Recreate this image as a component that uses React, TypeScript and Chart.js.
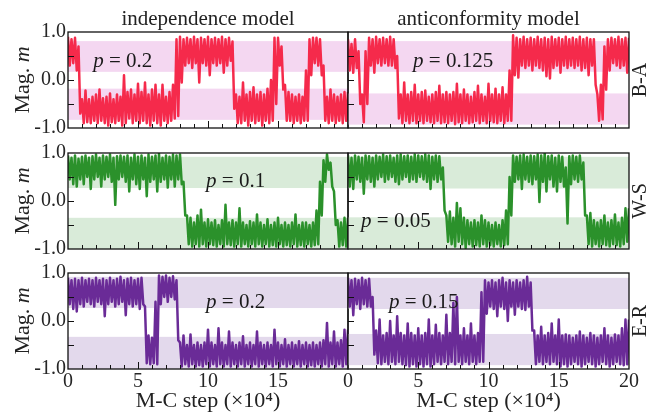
import { useEffect, useRef } from 'react';
import { Chart, registerables } from 'chart.js';

Chart.register(...registerables);

const W = 664;
const H = 418;
const SERIF = '"Liberation Serif", "DejaVu Serif", serif';
const STEP = 0.25;

// ---- time series envelopes (per 0.25 x 10^4 M-C steps: upper / lower value) ----
const baIndHi = [
  0.9, 0.85, 0.88, 0.7, -0.4, -0.22, -0.4, -0.35, -0.3, -0.2,
  -0.38, -0.35, -0.28, -0.4, -0.3, -0.35, 0.1, -0.25, -0.2, -0.3,
  -0.08, -0.25, -0.05, -0.3, -0.2, -0.1, -0.3, -0.1, -0.35, -0.25,
  -0.1, 0.85, 0.9, 0.85, 0.88, 0.85, 0.9, 0.85, 0.88, 0.85,
  0.9, 0.85, 0.88, 0.85, 0.9, 0.85, 0.88, 0.8, -0.3, -0.35,
  -0.05, -0.3, -0.25, -0.15, -0.3, -0.25, -0.3, -0.18, 0.0, 0.88,
  0.88, 0.7, -0.1, -0.25, -0.3, -0.35, -0.3, -0.35, 0.2, 0.85,
  0.88, 0.88, 0.85, 0.3, -0.35, -0.2, -0.3, -0.35, -0.3, -0.25,
];
const baIndLo = [
  0.3, 0.35, 0.2, -0.7, -0.9, -0.88, -0.9, -0.85, -0.9, -0.85,
  -0.9, -0.95, -0.88, -0.9, -0.85, -0.95, -0.9, -0.8, -0.9, -0.85,
  -0.9, -0.85, -0.9, -0.95, -0.85, -0.9, -0.95, -0.85, -0.9, -0.85,
  -0.8, -0.75, -0.05, 0.3, 0.35, 0.25, 0.35, -0.05, 0.35, 0.3,
  0.1, 0.35, 0.3, 0.35, 0.15, 0.3, 0.4, -0.6, -0.9, -0.9,
  -0.85, -0.95, -0.85, -0.9, -0.85, -0.95, -0.85, -0.9, -0.85, -0.5,
  0.3, -0.2, -0.85, -0.85, -0.9, -0.85, -0.9, -0.85, -0.85, 0.1,
  0.35, 0.3, 0.1, -0.85, -0.9, -0.85, -0.9, -0.85, -0.9, -0.85,
];
const baAntiHi = [
  0.85, 0.75, 0.85, 0.6, -0.3, 0.6, 0.88, 0.85, 0.9, 0.85,
  0.88, 0.85, 0.9, 0.85, 0.5, -0.3, -0.05, -0.3, -0.25, -0.1,
  -0.3, -0.25, -0.22, -0.35, -0.3, -0.25, -0.12, -0.3, -0.25, -0.3,
  -0.25, -0.08, -0.3, -0.2, -0.3, -0.35, -0.25, -0.12, -0.3, -0.35,
  -0.08, -0.3, -0.18, -0.3, -0.15, -0.3, 0.2, 0.93, 0.88, 0.85,
  0.9, 0.85, 0.88, 0.85, 0.9, 0.85, 0.88, 0.85, 0.9, 0.85,
  0.88, 0.85, 0.9, 0.85, 0.88, 0.85, 0.9, 0.85, 0.88, 0.85,
  0.85, -0.3, -0.1, 0.7, 0.85, 0.88, 0.85, 0.9, 0.85, 0.88,
];
const baAntiLo = [
  0.2, 0.15, 0.25, -0.5, -0.88, -0.5, 0.3, 0.15, 0.35, 0.3,
  0.35, 0.3, 0.3, 0.25, -0.8, -0.9, -0.85, -0.9, -0.85, -0.9,
  -0.85, -0.9, -0.85, -0.88, -0.9, -0.85, -0.9, -0.88, -0.9, -0.85,
  -0.92, -0.88, -0.9, -0.85, -0.9, -0.88, -0.85, -0.9, -0.85, -0.9,
  -0.85, -0.88, -0.9, -0.85, -0.9, -0.85, -0.85, 0.1, 0.05, 0.3,
  0.25, 0.3, 0.2, 0.3, 0.25, 0.2, 0.08, 0.03, 0.25, 0.3,
  0.15, 0.3, 0.25, 0.3, 0.25, 0.3, 0.2, 0.25, 0.1, 0.3,
  -0.1, -0.85, -0.82, -0.2, 0.2, 0.35, 0.3, 0.25, 0.3, 0.15,
];
const wsIndHi = [
  0.95, 0.9, 0.95, 0.88, 0.92, 0.95, 0.9, 0.93, 0.97, 0.9,
  0.95, 0.92, 0.97, 0.9, 0.93, 0.95, 0.92, 0.95, 0.9, 0.97,
  0.92, 0.95, 0.9, 0.97, 0.92, 0.95, 0.98, 0.9, 0.95, 0.92,
  0.97, 0.95, 0.97, 0.4, -0.3, -0.35, -0.45, -0.3, -0.18, -0.45,
  -0.38, -0.45, -0.4, -0.5, -0.4, -0.08, -0.45, -0.4, -0.45, -0.15,
  -0.45, -0.5, -0.42, -0.45, -0.28, -0.45, -0.5, -0.38, -0.5, -0.45,
  -0.35, -0.5, -0.45, -0.5, -0.45, -0.28, -0.5, -0.45, -0.45, -0.5,
  -0.45, -0.2, 0.4, 0.85, 0.97, 0.8, 0.2, -0.4, -0.45, -0.35,
];
const wsIndLo = [
  0.45, 0.35, 0.3, 0.45, 0.35, 0.5, 0.25, 0.45, 0.5, 0.3,
  0.45, 0.5, 0.4, -0.08, 0.45, 0.5, 0.4, 0.2, 0.45, 0.35,
  0.25, 0.45, 0.1, 0.4, 0.45, 0.2, 0.4, 0.45, 0.28, 0.45,
  0.3, 0.45, 0.35, -0.3, -0.9, -0.95, -0.9, -0.95, -0.9, -0.95,
  -0.9, -0.92, -0.95, -0.9, -0.95, -0.9, -0.92, -0.95, -0.9, -0.95,
  -0.9, -0.95, -0.9, -0.95, -0.9, -0.95, -0.9, -0.95, -0.92, -0.95,
  -0.9, -0.95, -0.92, -0.95, -0.9, -0.95, -0.92, -0.95, -0.9, -0.95,
  -0.92, -0.9, -0.3, 0.4, 0.65, 0.3, -0.5, -0.95, -0.92, -0.95,
];
const wsAntiHi = [
  0.95, 0.9, 0.95, 0.92, 0.9, 0.95, 0.93, 0.9, 0.95, 0.92,
  0.97, 0.93, 0.95, 0.9, 0.95, 0.97, 0.93, 0.95, 0.92, 0.97,
  0.95, 0.93, 0.97, 0.95, 0.92, 0.95, 0.93, 0.7, -0.3, -0.22,
  -0.35, -0.04, -0.15, -0.35, -0.4, -0.45, -0.4, -0.45, -0.3, -0.4,
  -0.45, -0.5, -0.45, -0.5, -0.4, -0.2, 0.5, 0.95, 0.92, 0.95,
  0.97, 0.92, 0.95, 0.93, 0.97, 0.95, 1.0, 0.93, 0.95, 0.9,
  0.95, 0.92, 0.7, 0.93, 0.95, 0.92, 0.95, 0.8, -0.3, -0.25,
  -0.4, -0.45, -0.4, -0.3, -0.45, -0.4, -0.28, -0.45, -0.35, -0.15,
];
const wsAntiLo = [
  0.3, 0.25, 0.45, 0.4, 0.15, 0.45, 0.4, 0.3, 0.45, 0.5,
  0.4, 0.45, 0.5, 0.4, 0.35, 0.45, 0.5, 0.4, 0.45, 0.4,
  0.5, 0.45, 0.4, 0.25, 0.45, 0.4, 0.45, -0.2, -0.85, -0.9,
  -0.95, -0.85, -0.9, -0.98, -0.9, -0.95, -0.92, -0.95, -0.9, -0.95,
  -0.92, -0.95, -0.9, -0.95, -0.92, -0.9, -0.3, 0.4, 0.45, 0.25,
  0.45, 0.4, 0.35, 0.45, -0.02, 0.4, 0.2, 0.45, 0.3, 0.2,
  0.4, 0.3, -0.47, 0.35, 0.45, 0.4, 0.45, -0.3, -0.9, -0.95,
  -0.9, -0.95, -0.9, -0.92, -0.95, -0.9, -0.92, -0.95, -0.9, -0.85,
];
const erIndHi = [
  0.9, 0.85, 0.88, 0.85, 0.9, 0.85, 0.88, 0.85, 0.9, 0.85,
  0.88, 0.85, 0.9, 0.85, 0.88, 0.92, 0.85, 0.88, 0.9, 0.85,
  0.88, 0.9, 0.3, -0.3, -0.35, 0.4, 0.95, 0.92, 0.95, 0.9,
  0.93, 0.85, -0.45, -0.3, -0.5, -0.28, -0.5, -0.45, -0.5, -0.45,
  -0.18, -0.45, -0.5, -0.15, -0.45, -0.5, -0.22, -0.45, -0.5, -0.45,
  -0.32, -0.5, -0.45, -0.5, -0.22, -0.45, -0.5, -0.45, -0.5, -0.18,
  -0.45, -0.5, -0.38, -0.5, -0.45, -0.5, -0.42, -0.5, -0.45, -0.5,
  -0.45, -0.5, -0.45, -0.4, -0.04, -0.45, -0.22, -0.45, -0.4, -0.18,
];
const erIndLo = [
  0.35, 0.25, 0.2, 0.35, 0.3, 0.4, 0.35, 0.3, 0.4, 0.35,
  0.1, 0.35, 0.4, 0.3, 0.35, 0.4, 0.12, 0.35, 0.3, 0.35,
  0.25, 0.35, -0.88, -0.9, -0.88, -0.9, 0.35, 0.5, 0.4, 0.5,
  0.45, -0.4, -0.95, -0.9, -0.95, -0.9, -0.95, -0.92, -0.95, -0.9,
  -0.95, -0.9, -0.95, -0.9, -0.95, -0.9, -0.95, -0.9, -0.95, -0.9,
  -0.95, -0.9, -0.95, -0.9, -0.95, -0.9, -0.95, -0.9, -0.95, -0.9,
  -0.95, -0.9, -0.95, -0.9, -0.95, -0.9, -0.95, -0.9, -0.95, -0.92,
  -0.95, -0.9, -0.95, -0.9, -0.95, -0.9, -0.95, -0.9, -0.95, -0.9,
];
const erAntiHi = [
  0.9, 0.85, 0.88, 0.85, 0.9, 0.85, 0.88, 0.5, -0.2, 0.03,
  -0.3, -0.25, 0.0, -0.3, 0.1, -0.25, -0.3, -0.05, -0.25, -0.3,
  -0.15, -0.3, -0.25, 0.03, -0.3, -0.08, -0.25, -0.3, 0.13, -0.25,
  0.38, 0.5, -0.3, -0.15, -0.3, -0.05, -0.3, -0.25, 0.6, 0.85,
  0.8, 0.85, 0.8, 0.85, 0.9, 0.8, 0.85, 0.8, 0.85, 0.8,
  0.85, 0.92, 0.8, -0.2, -0.3, -0.12, -0.3, -0.25, -0.05, -0.3,
  0.03, -0.3, -0.28, -0.3, -0.35, -0.3, -0.22, -0.3, -0.35, -0.25,
  -0.3, -0.35, -0.3, -0.15, -0.3, -0.35, -0.28, -0.3, -0.15, 0.03,
];
const erAntiLo = [
  0.3, 0.12, 0.35, 0.25, 0.35, 0.3, 0.3, -0.7, -0.88, -0.9,
  -0.85, -0.9, -0.85, -0.9, -0.85, -0.9, -0.92, -0.95, -0.9, -0.95,
  -0.9, -0.95, -0.9, -0.95, -0.9, -0.85, -0.9, -0.85, -0.9, -0.85,
  -0.9, -0.85, -0.9, -0.85, -0.9, -0.85, -0.9, -0.85, -0.85, 0.15,
  0.3, 0.25, 0.1, 0.3, 0.25, 0.0, 0.3, 0.13, 0.3, 0.25,
  0.23, 0.3, -0.2, -0.9, -0.85, -0.9, -0.85, -0.9, -0.85, -0.9,
  -0.95, -0.9, -0.95, -0.9, -0.85, -0.9, -0.95, -0.9, -0.85, -0.9,
  -0.95, -0.9, -0.85, -0.9, -0.95, -0.9, -0.85, -0.9, -0.92, -0.9,
];

// ---- shaded bands: [top1, bottom1, top2, bottom2] ----
const baIndBands = [0.81, 0.17, -0.18, -0.83];
const baAntiBands = [0.81, 0.17, -0.28, -0.93];
const wsIndBands = [0.92, 0.27, -0.35, -1.0];
const wsAntiBands = [0.92, 0.26, -0.34, -1.0];
const erIndBands = [0.92, 0.27, -0.33, -1.0];
const erAntiBands = [0.9, 0.25, -0.27, -0.92];

// ---- labels ----
const columnTitles = ['independence model', 'anticonformity model'];
const rowLabels = ['B-A', 'W-S', 'E-R'];
const pValues = ['0.2', '0.125', '0.1', '0.05', '0.2', '0.15'];
// annotation anchor (x in 10^4 steps, y = baseline value)
const pAnchorX = [1.8, 4.63, 9.86, 0.93, 9.86, 2.92];
const pAnchorY = [0.27, 0.27, 0.29, -0.54, 0.27, 0.27];
const xTickStep = 5;
const yTickValues = [-1, 0, 1];

const lineColors = ['#f52a4b', '#2b912b', '#6a2b97'];
const bandColors = ['#f4d7f1', '#d9ebd9', '#e3d9ec'];

const PLOT_LEFT = [68, 348];
const PLOT_RIGHT = [348, 629];
const PLOT_TOP = [32, 153, 273];
const PLOT_H = 96;
const Y_AXIS_W = 40;
const X_AXIS_H = 30;

function toPoints(hi: number[], lo: number[]) {
  const pts: { x: number; y: number }[] = [];
  for (let i = 0; i < hi.length; i++) {
    pts.push({ x: i * STEP, y: hi[i] });
    pts.push({ x: i * STEP + STEP / 2, y: lo[i] });
  }
  pts.push({ x: hi.length * STEP, y: hi[hi.length - 1] });
  return pts;
}

const panels = [
  { row: 0, col: 0, hi: baIndHi, lo: baIndLo, bands: baIndBands },
  { row: 0, col: 1, hi: baAntiHi, lo: baAntiLo, bands: baAntiBands },
  { row: 1, col: 0, hi: wsIndHi, lo: wsIndLo, bands: wsIndBands },
  { row: 1, col: 1, hi: wsAntiHi, lo: wsAntiLo, bands: wsAntiBands },
  { row: 2, col: 0, hi: erIndHi, lo: erIndLo, bands: erIndBands },
  { row: 2, col: 1, hi: erAntiHi, lo: erAntiLo, bands: erAntiBands },
];

const decorPlugin = {
  id: 'decor',
  beforeDatasetsDraw(chart: any, _args: any, opts: any) {
    const { ctx, chartArea } = chart;
    const y = chart.scales.y;
    ctx.save();
    ctx.fillStyle = opts.bandColor;
    const b = opts.bands;
    for (let k = 0; k < b.length; k += 2) {
      const t = y.getPixelForValue(b[k]);
      const bt = y.getPixelForValue(b[k + 1]);
      ctx.fillRect(chartArea.left, t, chartArea.right - chartArea.left, bt - t);
    }
    ctx.restore();
  },
  afterDatasetsDraw(chart: any, _args: any, opts: any) {
    const { ctx, chartArea } = chart;
    const { left, right, top, bottom } = chartArea;
    const x = chart.scales.x;
    const y = chart.scales.y;
    ctx.save();
    // annotation
    const ax = x.getPixelForValue(opts.pX);
    const ay = y.getPixelForValue(opts.pY);
    ctx.fillStyle = '#1a1a1a';
    ctx.textBaseline = 'alphabetic';
    ctx.textAlign = 'left';
    ctx.font = `italic 21px ${SERIF}`;
    ctx.fillText('p', ax, ay);
    const pw = ctx.measureText('p').width;
    ctx.font = `21px ${SERIF}`;
    ctx.fillText(' = ' + opts.pText, ax + pw, ay);

    // inward ticks
    ctx.strokeStyle = '#111';
    ctx.lineWidth = 1;
    ctx.beginPath();
    for (let v = 1; v < 20; v++) {
      const px = Math.round(x.getPixelForValue(v)) + 0.5;
      const len = v % 5 === 0 ? 7 : 4;
      ctx.moveTo(px, bottom);
      ctx.lineTo(px, bottom - len);
    }
    for (const v of [-0.5, 0, 0.5]) {
      const py = Math.round(y.getPixelForValue(v)) + 0.5;
      ctx.moveTo(left, py);
      ctx.lineTo(left + 6, py);
    }
    ctx.stroke();

    // frame
    ctx.lineWidth = 1.3;
    ctx.strokeStyle = '#111';
    ctx.strokeRect(left, top, right - left, bottom - top);

    // titles and labels
    ctx.fillStyle = '#222';
    if (opts.row === 0) {
      ctx.font = `21px ${SERIF}`;
      ctx.textAlign = 'center';
      ctx.fillText(columnTitles[opts.col], (left + right) / 2, top - 7);
    }
    if (opts.row === 2) {
      ctx.font = `22px ${SERIF}`;
      ctx.textAlign = 'center';
      ctx.fillText('M-C step (\u00d710\u2074)', (left + right) / 2, bottom + 38);
    }
    const cy = (top + bottom) / 2;
    if (opts.col === 0) {
      ctx.save();
      ctx.translate(left - 45, cy);
      ctx.rotate(-Math.PI / 2);
      ctx.textBaseline = 'middle';
      ctx.font = `22px ${SERIF}`;
      const a = 'Mag. ';
      const wa = ctx.measureText(a).width;
      ctx.font = `italic 22px ${SERIF}`;
      const wm = ctx.measureText('m').width;
      const start = -(wa + wm) / 2;
      ctx.textAlign = 'left';
      ctx.font = `22px ${SERIF}`;
      ctx.fillText(a, start, 0);
      ctx.font = `italic 22px ${SERIF}`;
      ctx.fillText('m', start + wa, 0);
      ctx.restore();
    } else {
      ctx.save();
      ctx.translate(right + 12, cy);
      ctx.rotate(-Math.PI / 2);
      ctx.textBaseline = 'middle';
      ctx.textAlign = 'center';
      ctx.font = `20px ${SERIF}`;
      ctx.fillText(rowLabels[opts.row], 0, 0);
      ctx.restore();
    }
    ctx.restore();
  },
};

function Panel({ idx }: { idx: number }) {
  const ref = useRef<HTMLCanvasElement | null>(null);
  useEffect(() => {
    const p = panels[idx];
    const left = PLOT_LEFT[p.col];
    const right = PLOT_RIGHT[p.col];
    const top = PLOT_TOP[p.row];
    const bottom = top + PLOT_H;
    const chart = new Chart(ref.current as HTMLCanvasElement, {
      type: 'line',
      data: {
        datasets: [
          {
            data: toPoints(p.hi, p.lo),
            borderColor: lineColors[p.row],
            borderWidth: 2.5,
            borderJoinStyle: 'round',
            pointRadius: 0,
            tension: 0,
            fill: false,
          },
        ],
      },
      options: {
        responsive: false,
        animation: false,
        events: [],
        layout: {
          padding: {
            left: left - Y_AXIS_W,
            right: W - right,
            top: top,
            bottom: H - bottom - X_AXIS_H,
          },
        },
        scales: {
          x: {
            type: 'linear',
            min: 0,
            max: 20,
            position: 'bottom',
            afterFit: (s: any) => {
              s.height = X_AXIS_H;
            },
            grid: { display: false, drawTicks: false },
            border: { display: false },
            ticks: {
              display: p.row === 2,
              stepSize: xTickStep,
              padding: 3,
              color: '#262626',
              font: { family: SERIF, size: 20, lineHeight: 1 },
              maxRotation: 0,
              autoSkip: false,
              callback: (v: any) => (p.col === 0 && Number(v) === 20 ? '' : String(v)),
            },
          },
          y: {
            type: 'linear',
            min: -1,
            max: 1,
            afterFit: (s: any) => {
              s.width = Y_AXIS_W;
            },
            afterBuildTicks: (s: any) => {
              s.ticks = yTickValues.map((v) => ({ value: v }));
            },
            grid: { display: false, drawTicks: false },
            border: { display: false },
            ticks: {
              display: p.col === 0,
              padding: 2,
              color: '#262626',
              font: { family: SERIF, size: 20, lineHeight: 1 },
              callback: (v: any) => Number(v).toFixed(1),
            },
          },
        },
        plugins: {
          legend: { display: false },
          tooltip: { enabled: false },
          decor: {
            row: p.row,
            col: p.col,
            bands: p.bands,
            bandColor: bandColors[p.row],
            pText: pValues[idx],
            pX: pAnchorX[idx],
            pY: pAnchorY[idx],
          },
        } as any,
      },
      plugins: [decorPlugin],
    });
    return () => chart.destroy();
  }, [idx]);
  return (
    <canvas
      ref={ref}
      width={W}
      height={H}
      style={{ position: 'absolute', left: 0, top: 0, width: W, height: H }}
    />
  );
}

export default function App() {
  return (
    <div style={{ position: 'absolute', left: 0, top: 0, width: W, height: H, background: '#fff', overflow: 'hidden' }}>
      {panels.map((_, i) => (
        <Panel key={i} idx={i} />
      ))}
    </div>
  );
}
